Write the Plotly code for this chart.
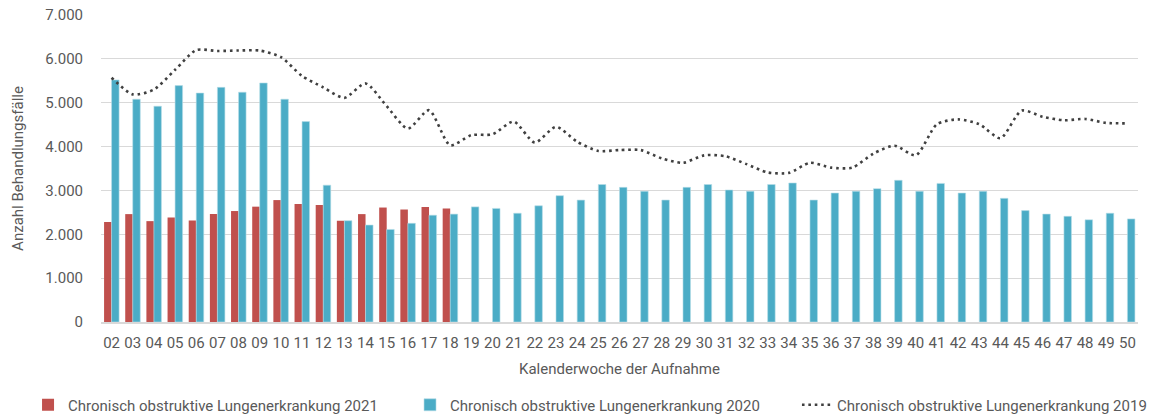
import plotly.graph_objects as go

# ---------------- Daten ----------------
wochen = [f"{w:02d}" for w in range(2, 51)]

faelle_2021 = [2280, 2460, 2300, 2380, 2315, 2460, 2530, 2630, 2780, 2690,
               2670, 2310, 2460, 2610, 2565, 2625, 2590]

faelle_2020 = [5520, 5080, 4920, 5390, 5220, 5350, 5240, 5450, 5080, 4570,
               3120, 2310, 2210, 2110, 2250, 2435, 2460, 2625, 2590, 2480,
               2650, 2880, 2780, 3135, 3070, 2980, 2780, 3070, 3135, 3010,
               2980, 3135, 3170, 2780, 2940, 2980, 3040, 3230, 2980, 3160,
               2940, 2980, 2820, 2540, 2460, 2410, 2330, 2480, 2350]

faelle_2019 = [5570, 5190, 5300, 5750, 6200, 6180, 6190, 6190, 6040, 5610,
               5350, 5110, 5440, 4920, 4410, 4830, 4030, 4260, 4280, 4570,
               4090, 4450, 4110, 3900, 3920, 3920, 3730, 3630, 3800, 3780,
               3600, 3410, 3400, 3630, 3520, 3520, 3840, 4020, 3800, 4510,
               4620, 4510, 4190, 4820, 4680, 4600, 4630, 4540, 4530]

# ---------------- Plot -----------------
FONT = "Roboto, sans-serif"
GRAU = "#595959"

fig = go.Figure()
fig.add_trace(go.Bar(x=wochen[:len(faelle_2021)], y=faelle_2021,
                     name="Chronisch obstruktive Lungenerkrankung 2021", legend="legend",
                     showlegend=True,
                     marker=dict(color="#C0504D", line=dict(width=0))))
fig.add_trace(go.Bar(x=wochen, y=faelle_2020,
                     name="Chronisch obstruktive Lungenerkrankung 2020", legend="legend2",
                     showlegend=True,
                     marker=dict(color="#4BACC6", line=dict(color="#B7DDE8", width=0.6))))
fig.add_trace(go.Scatter(x=wochen, y=faelle_2019, mode="lines",
                         name="Chronisch obstruktive Lungenerkrankung 2019", legend="legend3",
                         showlegend=True,
                         line=dict(color="#404040", width=2.6, dash="2.6px,3.8px",
                                   shape="spline", smoothing=0.7)))

# drei Legenden nebeneinander (wie im Original), relativ zur ganzen Grafik
leg = dict(orientation="h", xref="container", yref="container", xanchor="left",
           y=0.031, yanchor="middle", font=dict(size=15), itemwidth=30,
           bgcolor="rgba(0,0,0,0)")

fig.update_layout(
    width=1154, height=418,
    margin=dict(l=101, r=16, t=15, b=96, autoexpand=False),
    plot_bgcolor="white", paper_bgcolor="white",
    barmode="group", bargap=0.29, bargroupgap=0,
    separators=",.",
    showlegend=True,
    font=dict(family=FONT, size=15, color=GRAU),
    legend=dict(leg, x=0.0243),
    legend2=dict(leg, x=0.3553),
    legend3=dict(leg, x=0.6906),
)
fig.update_yaxes(range=[0, 7000], dtick=1000, tickformat=",d",
                 gridcolor="#D9D9D9", gridwidth=1, zeroline=False, automargin=False,
                 title=dict(text="Anzahl Behandlungsfälle", font=dict(size=15), standoff=18),
                 ticks="", ticklabelstandoff=17)
fig.update_xaxes(type="category", showgrid=False, showline=True, linecolor="#D9D9D9",
                 linewidth=1.5, tickangle=0, automargin=False, ticklabelstandoff=6,
                 title=dict(text="Kalenderwoche der Aufnahme", font=dict(size=15), standoff=13))

# Seitenrand des Browsers entfernen, damit die Grafik bei (0,0) beginnt
fig.write_html("out.html", config={"displayModeBar": False},
               post_script="document.body.style.margin='0px';")
